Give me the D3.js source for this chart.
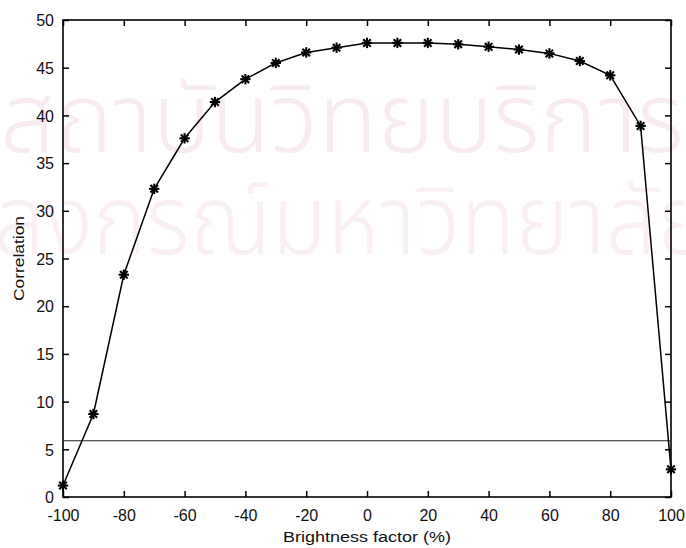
<!DOCTYPE html>
<html>
<head>
<meta charset="utf-8">
<script src="https://cdn.jsdelivr.net/npm/d3@7"></script>
<style>
  html, body { margin: 0; padding: 0; background: #fff; }
  svg { display: block; }
  text { font-family: "Liberation Sans", Arial, Helvetica, sans-serif; fill: #111; }
</style>
</head>
<body>
<svg id="chart" width="686" height="548"></svg>
<script>
const brightness = [-100, -90, -80, -70, -60, -50, -40, -30, -20, -10, 0, 10, 20, 30, 40, 50, 60, 70, 80, 90, 100];
const correlation = [1.2, 8.7, 23.3, 32.3, 37.6, 41.4, 43.8, 45.5, 46.6, 47.1, 47.6, 47.6, 47.6, 47.45, 47.2, 46.9, 46.5, 45.7, 44.2, 38.9, 2.9];
const thresholdValue = 5.9;
const xTicks = [-100, -80, -60, -40, -20, 0, 20, 40, 60, 80, 100];
const yTicks = [0, 5, 10, 15, 20, 25, 30, 35, 40, 45, 50];
const xLabel = "Brightness factor (%)";
const yLabel = "Correlation";
const watermark1 = "สถาบันวิทยบริการ";
const watermark2 = "จุฬาลงกรณ์มหาวิทยาลัย";

const svg = d3.select("#chart");
const m = {left: 63, top: 20, right: 15, bottom: 51};
const W = 686, H = 548;
const pw = W - m.left - m.right, ph = H - m.top - m.bottom;

// watermark (faint background text as in the scanned source)
const wm = svg.append("g").attr("class", "watermark");
wm.append("text").attr("x", 0).attr("y", 152)
  .attr("textLength", 684).attr("lengthAdjust", "spacingAndGlyphs")
  .style("font-family", "'Noto Sans Thai', 'Noto Sans', 'DejaVu Sans', sans-serif")
  .style("font-size", "96px").style("font-weight", "300").style("fill", "#f8ecf1").text(watermark1);
wm.append("text").attr("x", -150).attr("y", 254)
  .attr("textLength", 860).attr("lengthAdjust", "spacingAndGlyphs")
  .style("font-family", "'Noto Sans Thai', 'Noto Sans', 'DejaVu Sans', sans-serif")
  .style("font-size", "96px").style("font-weight", "300").style("fill", "#faf0f4").text(watermark2);

const x = d3.scaleLinear().domain([-100, 100]).range([m.left, m.left + pw]);
const y = d3.scaleLinear().domain([0, 50]).range([m.top + ph, m.top]);

const g = svg.append("g");

// box
g.append("rect").attr("x", m.left).attr("y", m.top).attr("width", pw).attr("height", ph)
  .attr("fill", "none").attr("stroke", "#000").attr("stroke-width", 1.6);

const fmt = d => String(d);
// axes with inward ticks
const axB = g.append("g").attr("transform", `translate(0,${m.top + ph})`)
  .call(d3.axisBottom(x).tickValues(xTicks).tickSize(-6).tickPadding(13).tickFormat(fmt));
const axT = g.append("g").attr("transform", `translate(0,${m.top})`)
  .call(d3.axisTop(x).tickValues(xTicks).tickSize(-6).tickFormat(""));
const axL = g.append("g").attr("transform", `translate(${m.left},0)`)
  .call(d3.axisLeft(y).tickValues(yTicks).tickSize(-6).tickPadding(9).tickFormat(fmt));
const axR = g.append("g").attr("transform", `translate(${m.left + pw},0)`)
  .call(d3.axisRight(y).tickValues(yTicks).tickSize(-6).tickFormat(""));
[axB, axT, axL, axR].forEach(a => {
  a.select(".domain").remove();
  a.selectAll(".tick line").attr("stroke", "#000").attr("stroke-width", 1.5);
  a.selectAll(".tick text").style("font-size", "16px").attr("fill", "#111");
});
axL.selectAll(".tick text").attr("dy", "0.36em");

// threshold line
g.append("line").attr("x1", x(-100)).attr("x2", x(100))
  .attr("y1", y(thresholdValue)).attr("y2", y(thresholdValue))
  .attr("stroke", "#222").attr("stroke-width", 1.1);

// data line
const pts = brightness.map((b, i) => [b, correlation[i]]);
g.append("path").datum(pts)
  .attr("d", d3.line().x(d => x(d[0])).y(d => y(d[1])))
  .attr("fill", "none").attr("stroke", "#000").attr("stroke-width", 1.5);

// asterisk markers
const r = 5.2;
const mk = g.append("g").selectAll("g").data(pts).join("g")
  .attr("transform", d => `translate(${x(d[0])},${y(d[1])})`);
const arms = [[-r, 0, r, 0], [0, -r, 0, r], [-r * 0.72, -r * 0.72, r * 0.72, r * 0.72], [-r * 0.72, r * 0.72, r * 0.72, -r * 0.72]];
arms.forEach(a => {
  mk.append("line").attr("x1", a[0]).attr("y1", a[1]).attr("x2", a[2]).attr("y2", a[3])
    .attr("stroke", "#000").attr("stroke-width", 2.1);
});

// axis labels
svg.append("text").attr("x", m.left + pw / 2).attr("y", 542)
  .attr("text-anchor", "middle").attr("textLength", 168).attr("lengthAdjust", "spacingAndGlyphs")
  .style("font-size", "15.5px").text(xLabel);
svg.append("text").attr("transform", `translate(24,${m.top + ph / 2}) rotate(-90)`)
  .attr("text-anchor", "middle").attr("textLength", 85).attr("lengthAdjust", "spacingAndGlyphs")
  .style("font-size", "15.5px").text(yLabel);
</script>
</body>
</html>
